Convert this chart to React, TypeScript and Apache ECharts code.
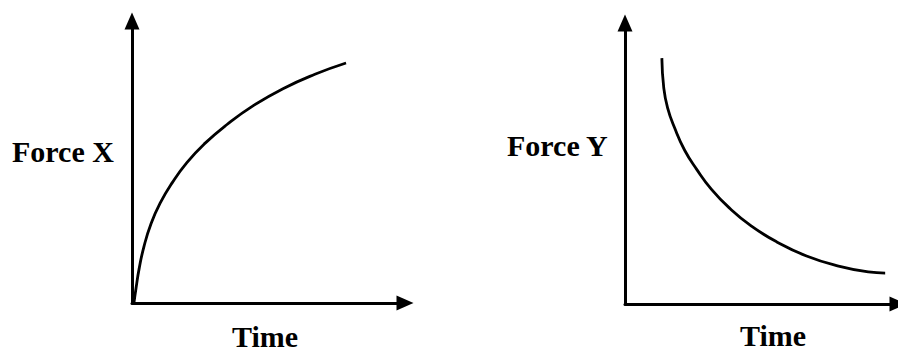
import React, { useEffect, useRef } from "react";
import * as echarts from "echarts";

// Left panel: Force X rising with time (axis units 0-100)
const forceXTime = [0.7, 1.5, 2.6, 4.4, 7.0, 10.3, 14.7, 20.1, 26.7, 34.8, 44.3, 55.3, 67.0, 78.4];
const forceXValue = [0, 5.4, 12.1, 20.1, 28.2, 35.4, 42.6, 49.8, 56.6, 63.3, 69.9, 76.0, 81.1, 85.1];

// Right panel: Force Y falling with time (axis units 0-100)
const forceYTime = [13.5, 14.2, 15.6, 18.2, 21.8, 26.2, 31.6, 38.2, 46.2, 55.6, 66.5, 78.2, 89.1, 95.3];
const forceYValue = [87.5, 76.9, 69.8, 62.6, 54.8, 48.0, 40.9, 34.2, 27.8, 22.1, 17.1, 13.5, 11.4, 11.0];

const labels = { leftY: "Force X", rightY: "Force Y", x: "Time" };

const FONT = 'bold 30px "Liberation Serif", "Times New Roman", serif';

export default function App() {
  const ref = useRef<HTMLDivElement>(null);
  useEffect(() => {
    if (!ref.current) return;
    const chart = echarts.init(ref.current, undefined, { renderer: "svg" });
    const axisLine = {
      show: true,
      onZero: false,
      symbol: ["none", "triangle"],
      symbolSize: [15, 17],
      lineStyle: { color: "#000", width: 3 },
    };
    const hidden = {
      axisTick: { show: false },
      axisLabel: { show: false },
      splitLine: { show: false },
    };
    const pairs = (xs: number[], ys: number[]) => xs.map((x, i) => [x, ys[i]]);
    chart.setOption({
      animation: false,
      backgroundColor: "#fff",
      grid: [
        { left: 132, top: 21, width: 273, height: 282 },
        { left: 625, top: 23, width: 275, height: 281 },
      ],
      xAxis: [
        { type: "value", gridIndex: 0, min: 0, max: 100, axisLine, ...hidden },
        { type: "value", gridIndex: 1, min: 0, max: 100, axisLine, ...hidden },
      ],
      yAxis: [
        { type: "value", gridIndex: 0, min: 0, max: 100, axisLine, ...hidden },
        { type: "value", gridIndex: 1, min: 0, max: 100, axisLine, ...hidden },
      ],
      series: [
        {
          type: "line",
          xAxisIndex: 0,
          yAxisIndex: 0,
          data: pairs(forceXTime, forceXValue),
          smooth: true,
          showSymbol: false,
          lineStyle: { color: "#000", width: 2.8 },
        },
        {
          type: "line",
          xAxisIndex: 1,
          yAxisIndex: 1,
          data: pairs(forceYTime, forceYValue),
          smooth: true,
          showSymbol: false,
          lineStyle: { color: "#000", width: 2.8 },
        },
      ],
      graphic: [
        { type: "text", x: 12, y: 151, style: { text: labels.leftY, font: FONT, fill: "#000", align: "left", verticalAlign: "middle" } },
        { type: "text", x: 507, y: 145, style: { text: labels.rightY, font: FONT, fill: "#000", align: "left", verticalAlign: "middle" } },
        { type: "text", x: 232, y: 336, style: { text: labels.x, font: FONT, fill: "#000", align: "left", verticalAlign: "middle" } },
        { type: "text", x: 740, y: 335, style: { text: labels.x, font: FONT, fill: "#000", align: "left", verticalAlign: "middle" } },
      ],
    });
    return () => chart.dispose();
  }, []);
  return (
    <div
      ref={ref}
      style={{ position: "fixed", left: 0, top: 0, width: 898, height: 352, background: "#fff" }}
    />
  );
}
